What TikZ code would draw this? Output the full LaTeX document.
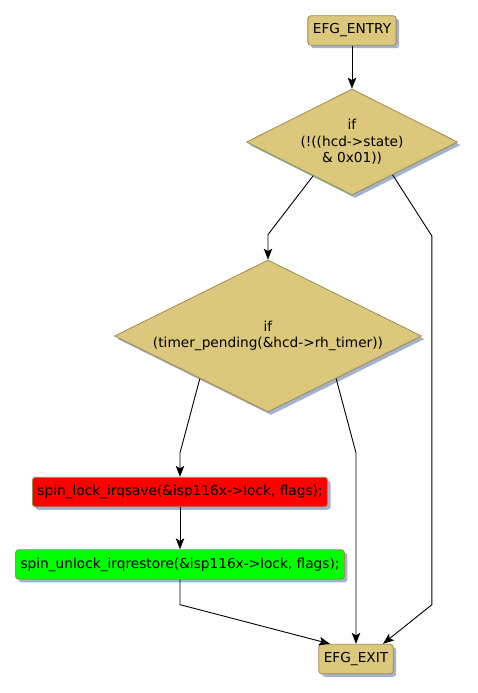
\documentclass[tikz,border=0pt]{standalone}
\usepackage{fontspec}
\setmainfont{DejaVu Sans}
\usetikzlibrary{shapes.geometric,arrows.meta,shadows}
\definecolor{boxfill}{HTML}{DCC87C}
\definecolor{boxline}{HTML}{9C8A4E}
\definecolor{shade}{HTML}{A3B3CF}
\begin{document}
\begin{tikzpicture}[x=1pt, y=1pt, node distance={112pt}, font=\fontsize{13.7}{16.5}\selectfont,
  shade/.style = {drop shadow={shadow xshift=3pt, shadow yshift=-3pt, fill=shade, opacity=1}},
  block/.style = {draw=boxline, line width=0.8pt, rounded corners=3pt, minimum height=29.5pt, inner xsep=5pt, inner ysep=0pt, shade},
  test/.style = {draw=boxline, line width=0.8pt, diamond, aspect=2, align=center, inner sep=0pt, fill=boxfill, shade},
  flow/.style = {-{Stealth[length=11pt, width=8.5pt, inset=2.5pt]}, line width=0.9pt}]
\useasboundingbox (0,0) rectangle (477,-693);
\node[block, fill=boxfill] (entry) at (352,-30.5) {EFG\_ENTRY};
\node[test, minimum width=211pt, minimum height=106pt] (if1) [below of=entry, node distance=111.5pt] {if\\(!((hcd->state)\\\& 0x01))};
\node[test, minimum width=307pt, minimum height=152pt] (if2) [below of=if1, node distance=194pt, xshift=-84pt] {if\\(timer\_pending(\&hcd->rh\_timer))};
\node[block, fill=red] (lock) [below of=if2, node distance=156pt, xshift=-88pt] {spin\_lock\_irqsave(\&isp116x->lock, flags);};
\node[block, fill=green] (unlock) [below of=lock, node distance=72.5pt] {spin\_unlock\_irqrestore(\&isp116x->lock, flags);};
\node[block, fill=boxfill] (exit) [below of=unlock, node distance=94.5pt, xshift=176pt] {EFG\_EXIT};
\coordinate (bend) at ([yshift=-25pt]unlock.south);
\draw[flow] (entry) -- (if1);
\draw[flow] (if1.221) -- ([yshift=25pt]if2.north) -- (if2.north);
\draw[flow] (if1.321) -- ([xshift=-26pt, yshift=-94pt]if1.east) coordinate (r1) -- (r1 |- bend) -- ([xshift=27pt]exit.north);
\draw[flow] (if2.212) -- ([yshift=24pt]lock.north) -- (lock.north);
\draw[flow] (if2.328) -- ([yshift=24pt]lock.north -| exit.north) -- (exit.north);
\draw[flow] (lock) -- (unlock);
\draw[flow] (unlock.south) -- (bend) -- ([xshift=-26pt]exit.north);
\end{tikzpicture}
\end{document}
